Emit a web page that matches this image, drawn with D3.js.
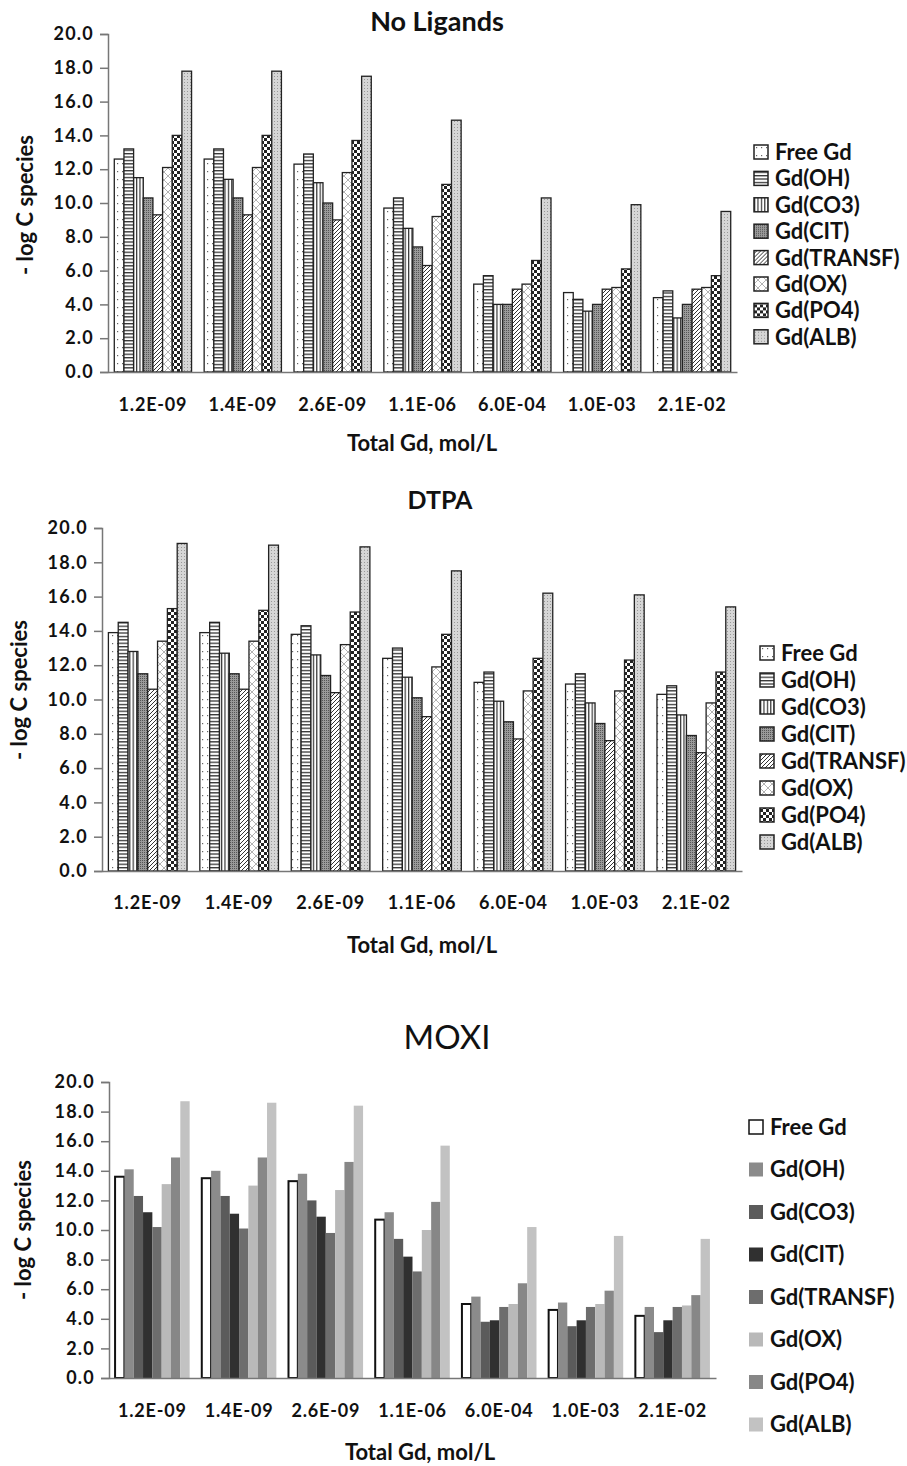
<!DOCTYPE html>
<html>
<head>
<meta charset="utf-8">
<script src="https://cdnjs.cloudflare.com/ajax/libs/d3/7.8.5/d3.min.js"></script>
<style>
  body { margin: 0; background: #fff; }
  text { font-family: Lato, 'Open Sans', sans-serif; fill: #111; }
</style>
</head>
<body>
<div id="chart"></div>
<script>
const categories = ['1.2E-09', '1.4E-09', '2.6E-09', '1.1E-06', '6.0E-04', '1.0E-03', '2.1E-02'];
const species = ['Free Gd', 'Gd(OH)', 'Gd(CO3)', 'Gd(CIT)', 'Gd(TRANSF)', 'Gd(OX)', 'Gd(PO4)', 'Gd(ALB)'];
const yTicks = [0, 2, 4, 6, 8, 10, 12, 14, 16, 18, 20];

// one row per species, one value per total Gd concentration
const noLigandsValues = [
  [12.6, 12.6, 12.3, 9.7, 5.2, 4.7, 4.4],
  [13.2, 13.2, 12.9, 10.3, 5.7, 4.3, 4.8],
  [11.5, 11.4, 11.2, 8.5, 4.0, 3.6, 3.2],
  [10.3, 10.3, 10.0, 7.4, 4.0, 4.0, 4.0],
  [9.3, 9.3, 9.0, 6.3, 4.9, 4.9, 4.9],
  [12.1, 12.1, 11.8, 9.2, 5.2, 5.0, 5.0],
  [14.0, 14.0, 13.7, 11.1, 6.6, 6.1, 5.7],
  [17.8, 17.8, 17.5, 14.9, 10.3, 9.9, 9.5]
];
const dtpaValues = [
  [13.9, 13.9, 13.8, 12.4, 11.0, 10.9, 10.3],
  [14.5, 14.5, 14.3, 13.0, 11.6, 11.5, 10.8],
  [12.8, 12.7, 12.6, 11.3, 9.9, 9.8, 9.1],
  [11.5, 11.5, 11.4, 10.1, 8.7, 8.6, 7.9],
  [10.6, 10.6, 10.4, 9.0, 7.7, 7.6, 6.9],
  [13.4, 13.4, 13.2, 11.9, 10.5, 10.5, 9.8],
  [15.3, 15.2, 15.1, 13.8, 12.4, 12.3, 11.6],
  [19.1, 19.0, 18.9, 17.5, 16.2, 16.1, 15.4]
];
const moxiValues = [
  [13.6, 13.5, 13.3, 10.7, 5.0, 4.6, 4.2],
  [14.1, 14.0, 13.8, 11.2, 5.5, 5.1, 4.8],
  [12.3, 12.3, 12.0, 9.4, 3.8, 3.5, 3.1],
  [11.2, 11.1, 10.9, 8.2, 3.9, 3.9, 3.9],
  [10.2, 10.1, 9.8, 7.2, 4.8, 4.8, 4.8],
  [13.1, 13.0, 12.7, 10.0, 5.0, 5.0, 4.9],
  [14.9, 14.9, 14.6, 11.9, 6.4, 5.9, 5.6],
  [18.7, 18.6, 18.4, 15.7, 10.2, 9.6, 9.4]
];

const width = 907;
const height = 1466;

const svg = d3.select('#chart')
              .append('svg')
              .attr('width', width)
              .attr('height', height);

const defs = svg.append('defs');

const addPattern = (id, w, h, draw) => {
  const p = defs.append('pattern')
                .attr('id', id)
                .attr('patternUnits', 'userSpaceOnUse')
                .attr('width', w)
                .attr('height', h);
  p.append('rect').attr('width', w).attr('height', h).attr('fill', '#fff');
  draw(p);
};

addPattern('p-dots', 5, 8, (p) => {
  p.append('rect').attr('x', 2).attr('y', 3).attr('width', 1.2).attr('height', 1.2).attr('fill', '#666');
});
addPattern('p-hlines', 4, 3.4, (p) => {
  p.append('rect').attr('x', 0).attr('y', 0).attr('width', 4).attr('height', 1.3).attr('fill', '#333');
});
addPattern('p-vlines', 3.4, 4, (p) => {
  p.append('rect').attr('x', 0).attr('y', 0).attr('width', 1.2).attr('height', 4).attr('fill', '#333');
});
addPattern('p-grid', 2, 2, (p) => {
  p.append('rect').attr('width', 2).attr('height', 2).attr('fill', '#9a9a9a');
  p.append('rect').attr('x', 0).attr('y', 0).attr('width', 1).attr('height', 1).attr('fill', '#555');
});
addPattern('p-diag', 4, 4, (p) => {
  p.append('path').attr('d', 'M-1,1 l2,-2 M0,4 l4,-4 M3,5 l2,-2')
   .attr('stroke', '#333').attr('stroke-width', 1);
});
addPattern('p-cross', 8, 8, (p) => {
  p.append('path').attr('d', 'M0,0 L8,8 M8,0 L0,8')
   .attr('stroke', '#aaa').attr('stroke-width', 0.9);
});
addPattern('p-check', 6, 6, (p) => {
  p.append('rect').attr('x', 0).attr('y', 0).attr('width', 3).attr('height', 3).attr('fill', '#222');
  p.append('rect').attr('x', 3).attr('y', 3).attr('width', 3).attr('height', 3).attr('fill', '#222');
});
addPattern('p-fine', 3, 3, (p) => {
  p.append('rect').attr('width', 3).attr('height', 3).attr('fill', '#d6d6d6');
  p.append('rect').attr('x', 1).attr('y', 1).attr('width', 1).attr('height', 1).attr('fill', '#999');
});

const patternFills = ['url(#p-dots)', 'url(#p-hlines)', 'url(#p-vlines)', 'url(#p-grid)',
                      'url(#p-diag)', 'url(#p-cross)', 'url(#p-check)', 'url(#p-fine)'];
const greyFills = ['#fff', '#8b8b8b', '#5b5b5b', '#303030', '#6d6d6d', '#b9b9b9', '#878787', '#c2c2c2'];

const drawPanel = (cfg) => {
  const g = svg.append('g');

  const x0 = d3.scaleBand()
               .domain(categories)
               .range([cfg.left, cfg.right])
               .paddingInner(0.14)
               .paddingOuter(0.07);

  const x1 = d3.scaleBand()
               .domain(species)
               .range([0, x0.bandwidth()]);

  const yScale = d3.scaleLinear()
                   .domain([0, 20])
                   .range([cfg.bottom, cfg.top]);

  // bars
  species.forEach((s, si) => {
    g.append('g')
     .selectAll('rect')
     .data(cfg.values[si])
     .enter()
     .append('rect')
     .attr('x', (d, i) => x0(categories[i]) + x1(s))
     .attr('y', (d) => yScale(d))
     .attr('width', x1.bandwidth())
     .attr('height', (d) => yScale(0) - yScale(d))
     .attr('fill', cfg.fills[si])
     .attr('stroke', cfg.strokes[si])
     .attr('stroke-width', cfg.strokeWidth);
  });

  const yAxis = d3.axisLeft(yScale)
                  .tickValues(yTicks)
                  .tickFormat((d) => d.toFixed(1))
                  .tickSize(8)
                  .tickPadding(6);

  const yg = g.append('g')
              .attr('transform', 'translate(' + cfg.left + ', 0)')
              .call(yAxis);
  yg.select('.domain').attr('stroke', '#777').attr('stroke-width', 1.5);
  yg.selectAll('.tick line').attr('stroke', '#777').attr('stroke-width', 1.5);
  yg.selectAll('.tick text')
    .attr('font-size', 18)
    .attr('font-weight', 'bold')
    .attr('letter-spacing', 1.2)
    .attr('fill', '#111')
    .style('font-family', 'Lato');

  const xAxis = d3.axisBottom(x0)
                  .tickSize(0)
                  .tickPadding(cfg.tickPad)
                  .tickSizeOuter(0);

  const xg = g.append('g')
              .attr('transform', 'translate(0, ' + cfg.bottom + ')')
              .call(xAxis);
  xg.select('.domain').attr('stroke', '#777').attr('stroke-width', 1.5);
  xg.selectAll('.tick text')
    .attr('font-size', 18)
    .attr('font-weight', 'bold')
    .attr('letter-spacing', 0.8)
    .attr('fill', '#111')
    .style('font-family', 'Lato');

  g.append('text')
   .attr('x', cfg.titleX)
   .attr('y', cfg.titleY)
   .attr('text-anchor', 'middle')
   .attr('font-size', cfg.titleSize)
   .attr('font-weight', cfg.titleWeight)
   .text(cfg.title);

  g.append('text')
   .attr('transform', 'translate(' + cfg.yTitleX + ', ' + cfg.yTitleY + ') rotate(-90)')
   .attr('text-anchor', 'middle')
   .attr('font-size', 22)
   .attr('font-weight', 'bold')
   .text('- log C species');

  g.append('text')
   .attr('x', cfg.xTitleX)
   .attr('y', cfg.xTitleY)
   .attr('text-anchor', 'middle')
   .attr('font-size', 22)
   .attr('font-weight', 'bold')
   .text('Total Gd, mol/L');

  // legend
  const legend = g.append('g')
                  .selectAll('g')
                  .data(species)
                  .enter()
                  .append('g')
                  .attr('transform', (d, i) => 'translate(' + cfg.legendX + ', ' + (cfg.legendY + i * cfg.legendStep) + ')');

  legend.append('rect')
        .attr('x', 0)
        .attr('y', -7)
        .attr('width', 14)
        .attr('height', 14)
        .attr('fill', (d, i) => cfg.fills[i])
        .attr('stroke', (d, i) => cfg.strokes[i])
        .attr('stroke-width', (d, i) => cfg.strokes[i] === 'none' ? 0 : 1.5);

  legend.append('text')
        .attr('x', 21)
        .attr('y', 0)
        .attr('dy', '0.36em')
        .attr('font-size', 22)
        .attr('font-weight', 'bold')
        .text((d) => d);
};

const blackStrokes = species.map(() => '#222');
const moxiStrokes = species.map((d, i) => i === 0 ? '#111' : 'none');

drawPanel({
  values: noLigandsValues, title: 'No Ligands', titleX: 437, titleY: 31, titleSize: 27, titleWeight: 'bold',
  left: 108, right: 737, top: 34, bottom: 372, tickPad: 26,
  fills: patternFills, strokes: blackStrokes, strokeWidth: 1.3,
  yTitleX: 33, yTitleY: 205, xTitleX: 422, xTitleY: 451,
  legendX: 754, legendY: 152, legendStep: 26.4
});

drawPanel({
  values: dtpaValues, title: 'DTPA', titleX: 440, titleY: 509, titleSize: 25, titleWeight: 'bold',
  left: 102, right: 742, top: 528, bottom: 871, tickPad: 25,
  fills: patternFills, strokes: blackStrokes, strokeWidth: 1.3,
  yTitleX: 27, yTitleY: 690, xTitleX: 422, xTitleY: 953,
  legendX: 760, legendY: 653, legendStep: 27
});

drawPanel({
  values: moxiValues, title: 'MOXI', titleX: 447, titleY: 1049, titleSize: 33, titleWeight: 'normal',
  left: 109, right: 716, top: 1082, bottom: 1378, tickPad: 26,
  fills: greyFills, strokes: moxiStrokes, strokeWidth: 2,
  yTitleX: 31, yTitleY: 1230, xTitleX: 420, xTitleY: 1460,
  legendX: 749, legendY: 1127, legendStep: 42.5
});
</script>
</body>
</html>
